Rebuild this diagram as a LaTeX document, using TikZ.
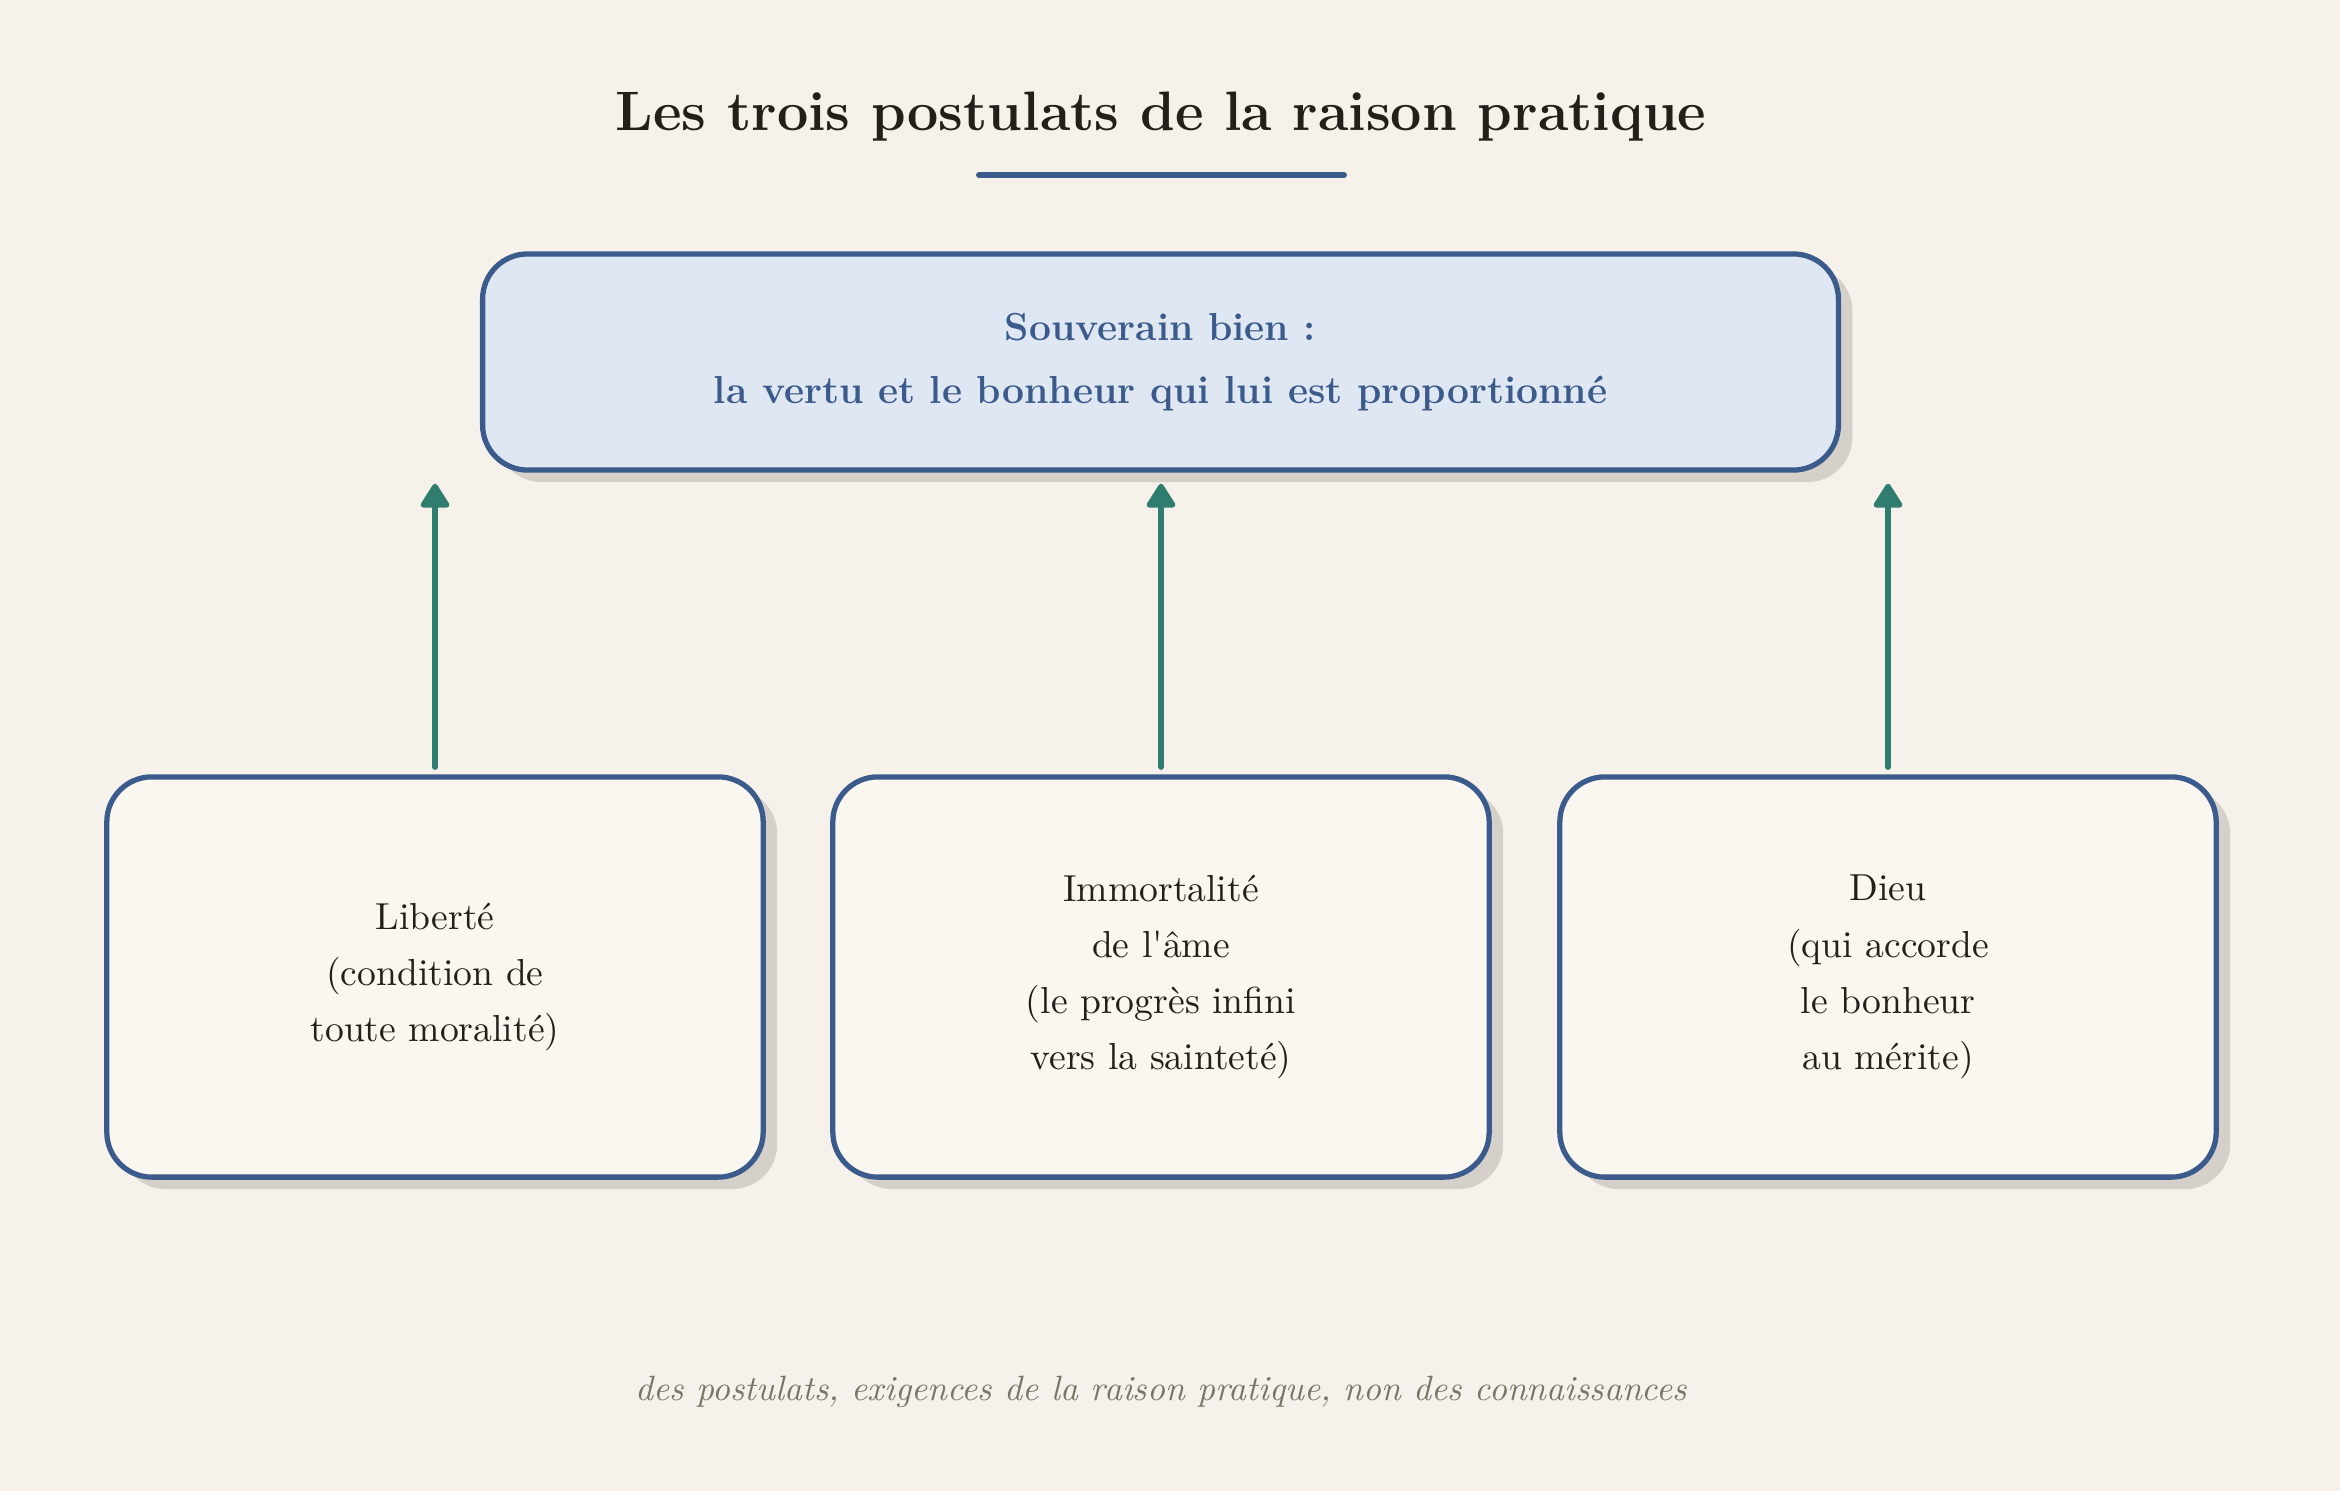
\documentclass[tikz,border=0pt]{standalone}
\usepackage{fontspec}
\usepackage{tikz}
\usetikzlibrary{positioning}
\usetikzlibrary{arrows.meta}
\usetikzlibrary{shadows}
\usepackage{xcolor}
\definecolor{fond}{HTML}{F6F2EB}
\definecolor{bleu}{HTML}{3B5B8C}
\definecolor{bleuclair}{HTML}{DFE7F2}
\definecolor{creme}{HTML}{FAF7F1}
\definecolor{vert}{HTML}{2E7D6E}
\definecolor{encre}{HTML}{231F1A}
\definecolor{gris}{HTML}{7B7567}
\definecolor{ombre}{HTML}{D5D0C9}
\tikzset{
  boite/.style={draw=bleu, line width=1.5pt, rounded corners=0.45cm, align=center,
    drop shadow={shadow xshift=0.14cm, shadow yshift=-0.12cm, fill=ombre, opacity=1}},
  fleche/.style={draw=vert, line width=1.5pt, line cap=round,
    -{Triangle[width=9pt,length=7.5pt,round]}},
  titre/.style={text=encre, font=\fontsize{15.8}{19}\selectfont\bfseries},
  pied/.style={text=gris, font=\fontsize{10}{12}\selectfont\itshape}
}

\begin{document}
\begin{tikzpicture}[x=0.01cm, y=-0.01cm]
  \fill[fond] (0,0) rectangle (2340,1491);
  \useasboundingbox (0,0) rectangle (2340,1491);

  \node[titre] (titre) at (1161,117) {Les trois postulats de la raison pratique};
  \coordinate (ga) at (979,175);
  \coordinate (dr) at (1344,175);
  \draw[bleu, line width=1.7pt, line cap=round] (ga) -- (dr);

  \node[boite, fill=bleuclair, minimum width=13.55cm, minimum height=2.16cm,
    text=bleu, font=\fontsize{11.1}{18}\selectfont\bfseries] (bien) at (1160.5,362)
    {Souverain bien :\\la vertu et le bonheur qui lui est proportionné};

  \foreach \nom/\x/\texte in {lib/435/{Liberté\\(condition de\\toute moralité)},
      imm/1161/{Immortalité\\de l\textquotesingle âme\\(le progrès infini\\vers la sainteté)},
      dieu/1888/{Dieu\\(qui accorde\\le bonheur\\au mérite)}}{
    \node[boite, fill=creme, minimum width=6.56cm, minimum height=4cm,
      text=encre, font=\fontsize{10.7}{16}\selectfont] (\nom) at (\x,977) {\texte};
    \draw[fleche, shorten <=0.07cm, shorten >=0.11cm] (\nom.north) -- (\nom.north |- bien.south);
  }

  \node[pied] (pied) at (1161,1392)
    {des postulats, exigences de la raison pratique, non des connaissances};
\end{tikzpicture}
\end{document}
